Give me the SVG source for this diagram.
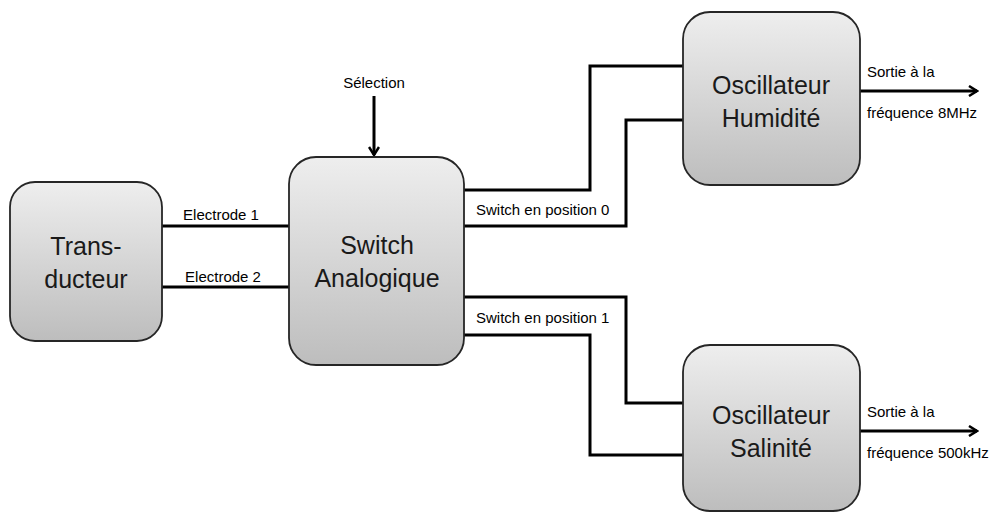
<svg xmlns="http://www.w3.org/2000/svg" width="998" height="512" viewBox="0 0 998 512">
<defs>
<linearGradient id="g" x1="0" y1="0" x2="0" y2="1">
<stop offset="0" stop-color="#eeeeee"/>
<stop offset="1" stop-color="#bdbdbd"/>
</linearGradient>
<marker id="arr" markerWidth="12" markerHeight="12" viewBox="0 0 12 12" refX="10" refY="6" orient="auto" markerUnits="userSpaceOnUse">
<polyline points="2,1 10,6 2,11" fill="none" stroke="#000" stroke-width="2.5"/>
</marker>
<style>
.box{fill:url(#g);stroke:#262626;stroke-width:1.8}
.big{font-family:"Liberation Sans",Arial,sans-serif;font-size:25px;fill:#1a1a1a;text-anchor:middle}
.sm{font-family:"Liberation Sans",Arial,sans-serif;font-size:15px;fill:#000}
.ln{fill:none;stroke:#000;stroke-width:3}
</style>
</defs>
<rect width="998" height="512" fill="#fff"/>
<g id="connectors">
<line class="ln" x1="162" y1="226" x2="289" y2="226"/>
<line class="ln" x1="162" y1="287" x2="289" y2="287"/>
<polyline class="ln" points="464,190 590,190 590,66 683,66"/>
<polyline class="ln" points="464,226 626,226 626,120 683,120"/>
<polyline class="ln" points="464,297 626,297 626,403 683,403"/>
<polyline class="ln" points="464,335 590,335 590,455 683,455"/>
<line class="ln" x1="374" y1="96" x2="374" y2="155" marker-end="url(#arr)"/>
<line class="ln" x1="860" y1="91" x2="977" y2="91" marker-end="url(#arr)"/>
<line class="ln" x1="860" y1="431" x2="977" y2="431" marker-end="url(#arr)"/>
<text class="sm" x="221" y="220" text-anchor="middle">Electrode 1</text>
<text class="sm" x="223" y="282" text-anchor="middle">Electrode 2</text>
<text class="sm" x="374" y="88" text-anchor="middle">Sélection</text>
<text class="sm" x="476" y="215">Switch en position 0</text>
<text class="sm" x="476" y="323">Switch en position 1</text>
<text class="sm" x="867" y="77">Sortie à la</text>
<text class="sm" x="867" y="118">fréquence 8MHz</text>
<text class="sm" x="867" y="417">Sortie à la</text>
<text class="sm" x="867" y="458">fréquence 500kHz</text>
</g>
<g id="transducteur">
<rect class="box" x="10" y="182" width="152" height="159" rx="25"/>
<text class="big" x="86" y="255">Trans-</text>
<text class="big" x="86" y="288">ducteur</text>
</g>
<g id="switch">
<rect class="box" x="289" y="157" width="175" height="208" rx="27"/>
<text class="big" x="377" y="254">Switch</text>
<text class="big" x="377" y="287">Analogique</text>
</g>
<g id="osc-humidite">
<rect class="box" x="683" y="12" width="177" height="173" rx="27"/>
<text class="big" x="771" y="94">Oscillateur</text>
<text class="big" x="771" y="127">Humidité</text>
</g>
<g id="osc-salinite">
<rect class="box" x="683" y="345" width="177" height="166" rx="27"/>
<text class="big" x="771" y="424">Oscillateur</text>
<text class="big" x="771" y="457">Salinité</text>
</g>
</svg>
